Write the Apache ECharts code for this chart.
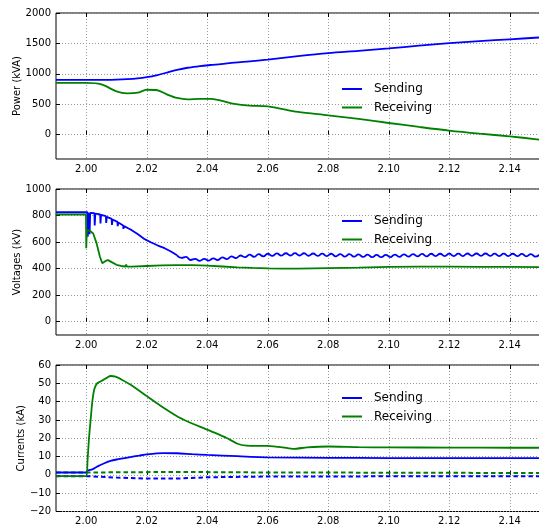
<!DOCTYPE html>
<html><head><meta charset="utf-8">
<script src="https://cdn.jsdelivr.net/npm/echarts@6/dist/echarts.min.js"></script>
<style>html,body{margin:0;padding:0;background:#fff}#c{width:539px;height:529px}</style>
</head><body><div id="c"></div>
<script>
// ---- tick labels ----
const xTicks = [2.00, 2.02, 2.04, 2.06, 2.08, 2.10, 2.12, 2.14];
const powerTicks = [0, 500, 1000, 1500, 2000];
const voltTicks = [0, 200, 400, 600, 800, 1000];
const currTicks = [-20, -10, 0, 10, 20, 30, 40, 50, 60];
const seriesNames = ['Sending', 'Receiving'];

// ---- power (kVA) ----
const powerT = [1.99, 2.00, 2.005, 2.01, 2.0135, 2.017, 2.02, 2.0235, 2.027, 2.03, 2.0335, 2.0375, 2.041, 2.0445, 2.049, 2.054, 2.06, 2.07, 2.08, 2.09, 2.10, 2.11, 2.12, 2.13, 2.14, 2.15];
const powerSending = [900, 900, 900, 905, 912, 925, 945, 980, 1025, 1065, 1100, 1125, 1145, 1160, 1185, 1205, 1233, 1290, 1340, 1378, 1418, 1462, 1505, 1538, 1568, 1598];
const powerReceiving = [850, 850, 825, 712, 680, 690, 738, 730, 655, 603, 580, 590, 590, 560, 505, 477, 466, 373, 318, 258, 192, 127, 66, 16, -28, -82];

// ---- voltages (kV) ----
const voltSendT1 = [1.99, 2.0004, 2.0005, 2.0007, 2.0010, 2.0011, 2.0013, 2.0027, 2.0028, 2.0030, 2.0046, 2.0047, 2.0049, 2.0065, 2.0066, 2.0068, 2.0084, 2.0085, 2.0087, 2.0103, 2.0104, 2.0106, 2.0122, 2.0123, 2.0125, 2.0140, 2.0149, 2.0171, 2.0193, 2.0215, 2.0237, 2.0259, 2.0280, 2.0300];
const voltSend1 = [825, 825, 640, 820, 825, 660, 820, 818, 725, 815, 808, 740, 805, 795, 745, 790, 775, 730, 770, 752, 720, 748, 725, 700, 720, 702, 692, 659, 622, 597, 574, 554, 529, 500];
const voltSendT2 = [2.0300, 2.0315, 2.0330, 2.0345, 2.0360, 2.0375, 2.0390, 2.0405, 2.0420, 2.0435, 2.0450, 2.0465, 2.0480, 2.0495, 2.0510, 2.0525, 2.0540, 2.0555, 2.0570, 2.0585, 2.0600, 2.0615, 2.0630, 2.0645, 2.0660, 2.0675, 2.0690, 2.0705, 2.0720, 2.0735, 2.0750, 2.0765, 2.0780, 2.0795, 2.0810, 2.0825, 2.0840, 2.0855, 2.0870, 2.0885, 2.0900, 2.0915, 2.0930, 2.0945, 2.0960, 2.0975, 2.0990, 2.1005, 2.1020, 2.1035, 2.1050, 2.1065, 2.1080, 2.1095, 2.1110, 2.1125, 2.1140, 2.1155, 2.1170, 2.1185, 2.1200, 2.1215, 2.1230, 2.1245, 2.1260, 2.1275, 2.1290, 2.1305, 2.1320, 2.1335, 2.1350, 2.1365, 2.1380, 2.1395, 2.1410, 2.1425, 2.1440, 2.1455, 2.1470, 2.1485, 2.1500];
const voltSend2 = [500, 481, 488, 465, 474, 459, 473, 460, 478, 465, 485, 472, 492, 480, 499, 486, 505, 489, 509, 493, 512, 496, 515, 498, 516, 499, 517, 499, 516, 497, 514, 496, 513, 495, 512, 493, 510, 491, 509, 490, 507, 488, 505, 486, 504, 486, 504, 487, 506, 489, 508, 491, 510, 492, 511, 493, 512, 494, 512, 495, 513, 495, 513, 495, 514, 496, 514, 496, 514, 496, 513, 495, 513, 495, 512, 494, 511, 493, 510, 491, 509];
const voltRecvT = [1.99, 1.9999, 2.0000, 2.0002, 2.0006, 2.0012, 2.0018, 2.0023, 2.0034, 2.0045, 2.0053, 2.0058, 2.0064, 2.0072, 2.0084, 2.0100, 2.0115, 2.0130, 2.0132, 2.0134, 2.015, 2.02, 2.025, 2.03, 2.035, 2.04, 2.045, 2.05, 2.055, 2.06, 2.065, 2.07, 2.08, 2.09, 2.10, 2.11, 2.12, 2.13, 2.14, 2.15];
const voltRecv = [808, 808, 554, 690, 675, 685, 670, 665, 592, 491, 441, 445, 458, 464, 449, 429, 420, 416, 432, 416, 415, 420, 424, 426, 427, 422, 416, 410, 405, 402, 400, 400, 404, 408, 414, 415, 415, 414, 413, 412];

// ---- currents (kA) ----
const currSendT = [1.99, 2.0000, 2.0004, 2.0020, 2.0036, 2.0058, 2.0080, 2.0100, 2.0141, 2.0175, 2.0200, 2.0254, 2.0300, 2.0350, 2.0400, 2.0500, 2.0600, 2.0800, 2.1000, 2.1200, 2.1500];
const currSend = [1.3, 1.3, 2.3, 3.0, 4.5, 6.2, 7.6, 8.4, 9.6, 10.5, 11.2, 11.9, 11.8, 11.3, 10.9, 10.2, 9.6, 9.3, 9.2, 9.2, 9.1];
const currRecvT = [1.99, 2.0000, 2.0004, 2.0009, 2.0015, 2.0020, 2.0027, 2.0036, 2.0047, 2.0058, 2.0069, 2.0080, 2.0097, 2.0119, 2.0152, 2.0200, 2.0243, 2.0300, 2.0333, 2.0377, 2.0422, 2.0466, 2.0500, 2.0530, 2.0600, 2.0650, 2.0686, 2.0730, 2.0800, 2.0900, 2.1000, 2.1200, 2.1400, 2.1500];
const currRecv = [-0.7, -0.7, 7, 20, 31, 40, 47, 50, 51, 52, 53.1, 54, 53.6, 51.8, 48.7, 43, 38, 32, 29.3, 26.2, 23.2, 20, 17, 16, 15.8, 15, 14.2, 15, 15.5, 15.1, 15, 14.9, 14.8, 14.8];
const currSendDcT = [1.99, 2.0000, 2.0004, 2.0100, 2.0200, 2.0300, 2.0400, 2.0600, 2.1000, 2.1500];
const currSendDc = [-0.7, -0.7, -1.0, -1.5, -2.0, -2.0, -1.3, -0.9, -0.8, -0.8];
const currRecvDcT = [1.99, 2.0000, 2.0004, 2.0300, 2.0600, 2.1000, 2.1500];
const currRecvDc = [1.3, 1.3, 2.2, 1.6, 1.3, 1.2, 1.0];

const BLUE = '#0000ff', GREEN = '#008000';
const FONT = 'DejaVu Sans';
const pts = (t, v) => t.map((x, i) => [x, v[i]]);
const minus = v => String(v).replace('-', '\u2212');

const grids = [
  {left: 56, width: 484, top: 13, height: 146},
  {left: 56, width: 484, top: 189, height: 146},
  {left: 56, width: 484, top: 365, height: 146.5}
].map(g => Object.assign(g, {show: true, borderColor: '#000', borderWidth: 1, backgroundColor: 'transparent',
  containLabel: false, outerBoundsMode: 'none'}));

const yDefs = [
  {name: 'Power (kVA)', min: -400, max: 2000, ticks: powerTicks, gap: 34},
  {name: 'Voltages (kV)', min: -100, max: 1000, ticks: voltTicks, gap: 34},
  {name: 'Currents (kA)', min: -20, max: 60, ticks: currTicks, gap: 30}
];

const gridLine = {show: true, lineStyle: {color: '#999', width: 1, type: [1, 2]}};

const xAxis = [];
const yAxis = [];
[0, 1, 2].forEach(i => {
  xAxis.push({
    type: 'value', gridIndex: i, min: 1.99, max: 2.15,
    axisLine: {show: false},
    axisTick: {show: true, inside: true, length: 4, customValues: xTicks, lineStyle: {color: '#000'}},
    axisLabel: {show: true, customValues: xTicks, margin: 5, color: '#000', fontSize: 10, fontFamily: FONT,
      formatter: v => v.toFixed(2)},
    splitLine: gridLine
  });
  xAxis.push({
    type: 'value', gridIndex: i, min: 1.99, max: 2.15, position: 'top',
    axisLine: {show: false},
    axisTick: {show: true, inside: true, length: 4, customValues: xTicks, lineStyle: {color: '#000'}},
    axisLabel: {show: false}, splitLine: {show: false}
  });
  const d = yDefs[i];
  yAxis.push({
    type: 'value', gridIndex: i, min: d.min, max: d.max,
    name: d.name, nameLocation: 'middle', nameGap: d.gap, nameRotate: 90, nameMoveOverlap: false,
    nameTextStyle: {color: '#000', fontSize: 10, fontFamily: FONT},
    axisLine: {show: false},
    axisTick: {show: true, inside: true, length: 4, customValues: d.ticks, lineStyle: {color: '#000'}},
    axisLabel: {show: true, customValues: d.ticks, margin: 5, color: '#000', fontSize: 10, fontFamily: FONT,
      formatter: minus},
    splitLine: gridLine
  });
});

function line(name, data, color, xi, yi, extra) {
  return Object.assign({
    type: 'line', name, data, xAxisIndex: xi * 2, yAxisIndex: yi,
    showSymbol: false, symbol: 'none', animation: false, clip: true,
    lineStyle: {color, width: 1.8}, itemStyle: {color}
  }, extra || {});
}

const series = [
  line('Sending', pts(powerT, powerSending), BLUE, 0, 0, {smooth: 0.3}),
  line('Receiving', pts(powerT, powerReceiving), GREEN, 0, 0, {smooth: 0.3}),
  line('Sending', pts(voltSendT1, voltSend1), BLUE, 1, 1),
  line('Sending', pts(voltSendT2, voltSend2), BLUE, 1, 1, {smooth: true}),
  line('Receiving', pts(voltRecvT, voltRecv), GREEN, 1, 1),
  line('Sending DC', pts(currSendDcT, currSendDc), BLUE, 2, 2, {lineStyle: {color: BLUE, width: 2, type: [4.5, 3]}}),
  line('Receiving DC', pts(currRecvDcT, currRecvDc), GREEN, 2, 2, {lineStyle: {color: GREEN, width: 2, type: [4.5, 3]}}),
  line('Sending', pts(currSendT, currSend), BLUE, 2, 2, {smooth: 0.2}),
  line('Receiving', pts(currRecvT, currRecv), GREEN, 2, 2, {smooth: 0.2})
];

const legendTops = [82, 214, 391];
const legend = legendTops.map(top => ({
  data: seriesNames.map((n, k) => ({name: n, itemStyle: {color: k ? GREEN : BLUE}})),
  orient: 'vertical', left: 342, top, icon: 'rect', itemWidth: 20, itemHeight: 2, itemGap: 4.5,
  selectedMode: false, padding: 0,
  textStyle: {color: '#000', fontSize: 12, fontFamily: FONT, lineHeight: 14, padding: [0, 0, 0, 7]}
}));

const chart = echarts.init(document.getElementById('c'), null, {renderer: 'canvas'});
chart.setOption({animation: false, backgroundColor: '#fff', grid: grids, xAxis, yAxis, legend, series});
</script></body></html>
